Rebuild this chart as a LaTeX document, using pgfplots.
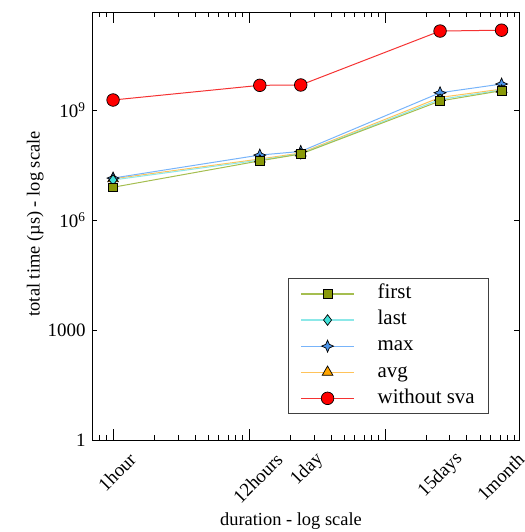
\documentclass[border=0pt]{standalone}
\usepackage{fontspec}
\setmainfont{Liberation Serif}
\usepackage{pgfplots}
\pgfplotsset{compat=1.18}

\definecolor{firstfill}{RGB}{138,154,10}
\definecolor{firstline}{RGB}{165,190,80}
\definecolor{lastfill}{RGB}{64,224,216}
\definecolor{lastline}{RGB}{140,232,232}
\definecolor{maxfill}{RGB}{77,148,232}
\definecolor{maxline}{RGB}{120,180,250}
\definecolor{avgfill}{RGB}{255,165,0}
\definecolor{avgline}{RGB}{255,195,90}
\definecolor{svafill}{RGB}{255,0,0}
\definecolor{svaline}{RGB}{245,50,50}

% four-pointed star
\pgfdeclareplotmark{star4}{%
  \pgfpathmoveto{\pgfqpoint{0pt}{\pgfplotmarksize}}%
  \pgfpathlineto{\pgfqpoint{0.3\pgfplotmarksize}{0.3\pgfplotmarksize}}%
  \pgfpathlineto{\pgfqpoint{\pgfplotmarksize}{0pt}}%
  \pgfpathlineto{\pgfqpoint{0.3\pgfplotmarksize}{-0.3\pgfplotmarksize}}%
  \pgfpathlineto{\pgfqpoint{0pt}{-\pgfplotmarksize}}%
  \pgfpathlineto{\pgfqpoint{-0.3\pgfplotmarksize}{-0.3\pgfplotmarksize}}%
  \pgfpathlineto{\pgfqpoint{-\pgfplotmarksize}{0pt}}%
  \pgfpathlineto{\pgfqpoint{-0.3\pgfplotmarksize}{0.3\pgfplotmarksize}}%
  \pgfpathclose
  \pgfusepathqfillstroke}

% x in hours
\pgfplotstableread{
x y
1 7.8e6
12 4.1e7
24 6.3e7
254 1.76e9
720 3.35e9
}\first
\pgfplotstableread{
x y
1 1.23e7
12 4.3e7
24 6.4e7
254 1.95e9
720 3.5e9
}\last
\pgfplotstableread{
x y
1 1.39e7
12 5.9e7
24 7.4e7
254 2.95e9
720 5.1e9
}\maxt
\pgfplotstableread{
x y
1 1.33e7
12 4.6e7
24 6.7e7
254 2.2e9
720 3.7e9
}\avg
\pgfplotstableread{
x y
1 1.87e9
12 4.7e9
24 4.8e9
254 1.42e11
720 1.5e11
}\sva

\begin{document}
\begin{tikzpicture}
\useasboundingbox (0,0) rectangle (525bp,532bp);
\begin{axis}[
    at={(92bp,92bp)}, anchor=south west,
    scale only axis,
    width=427bp, height=428bp,
    xmode=log, ymode=log,
    xmin=0.70, xmax=967,
    ymin=1, ymax=4.7e11,
    axis line style={line width=0.9bp},
    tick style={black, line width=0.8bp},
    tick align=inside,
    major tick length=11bp,
    minor tick length=5bp,
    xtick={1,10,100},
    xticklabels={{},{},{}},
    minor xtick={0.8,0.9,2,3,4,5,6,7,8,9,20,30,40,50,60,70,80,90,200,300,400,500,600,700,800,900},
    extra x ticks={1,12,24,254,720},
    extra x tick labels={1hour,12hours,1day,15days,1month},
    extra x tick style={major tick length=0pt,
      tick label style={xshift=22bp, yshift=-14bp, rotate=45, anchor=east}},
    ytick=\empty,
    minor ytick={1,10,100,1e3,1e4,1e5,1e6,1e7,1e8,1e9,1e10,1e11},
    extra y ticks={1,1000,1e6,1e9},
    extra y tick labels={1,1000,10\textsuperscript{6},10\textsuperscript{9}},
    extra y tick style={major tick length=5bp,
      tick label style={xshift=-3bp}},
    tick label style={font=\fontsize{19}{22}\selectfont},
    xlabel={duration - log scale},
    ylabel={total time (µs) - log scale},
    label style={font=\fontsize{18.5}{22}\selectfont},
    xlabel style={at={(axis description cs:0.466,-0.189)}, anchor=center},
    ylabel style={at={(axis description cs:-0.133,0.505)}, anchor=center, rotate=0},
    legend style={at={(0.930,0.061)}, anchor=south east,
      draw=black!75, line width=0.8bp, fill=white,
      font=\fontsize{21}{24}\selectfont,
      inner xsep=12bp, inner ysep=3bp,
      row sep=1.8bp,
      nodes={inner sep=2bp, text height=15bp, text depth=5.3bp},
      /tikz/every odd column/.append style={column sep=21bp}},
    legend cell align=left,
    reverse legend,
    legend image code/.code={%
      \draw[mark repeat=2, mark phase=2, line width=1.2bp] plot coordinates {(0bp,0bp) (26.5bp,0bp) (53bp,0bp)};},
    every axis plot/.append style={line width=1bp},
]
\addplot[svaline, mark=*, mark size=6.3bp,
  mark options={fill=svafill, draw=black, line width=0.7bp}] table {\sva};
\addlegendentry{without sva}
\addplot[avgline, mark=triangle*, mark size=6.2bp,
  mark options={fill=avgfill, draw=black, line width=0.7bp}] table {\avg};
\addlegendentry{avg}
\addplot[maxline, mark=star4, mark size=6bp,
  mark options={fill=maxfill, draw=black, line width=0.7bp}] table {\maxt};
\addlegendentry{max}
\addplot[lastline, mark=diamond*, mark size=5.3bp,
  mark options={fill=lastfill, draw=black, line width=0.7bp}] table {\last};
\addlegendentry{last}
\addplot[firstline, mark=square*, mark size=4.3bp,
  mark options={fill=firstfill, draw=black, line width=0.7bp}] table {\first};
\addlegendentry{first}
\end{axis}
\end{tikzpicture}
\end{document}
